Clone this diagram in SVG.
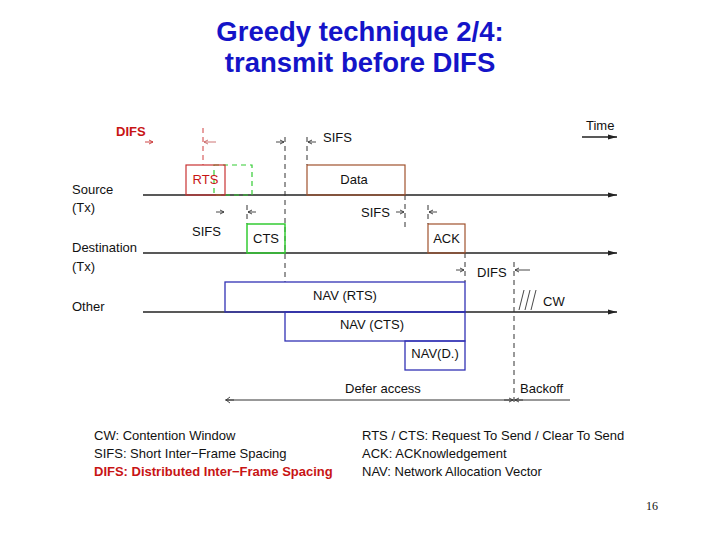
<svg xmlns="http://www.w3.org/2000/svg" width="720" height="540" viewBox="0 0 720 540">
<style>
text{font-family:"Liberation Sans",Arial,sans-serif;font-size:13px;fill:#111}
.title{font-size:27.5px;font-weight:bold;fill:#1414c8;text-anchor:middle}
.c{text-anchor:middle}
.axis{stroke:#222;stroke-width:1.3;fill:none}
.dash{stroke:#333;stroke-width:1;stroke-dasharray:5,4;fill:none}
.tick{stroke:#333;stroke-width:0.9;fill:none}
.red{fill:#c81414}
.nav{fill:none;stroke:#3232b4;stroke-width:1.3}
.frame{fill:none;stroke:#a0522d;stroke-width:1.2}
</style>
<defs>
<marker id="ah" markerWidth="10" markerHeight="8" refX="9" refY="4" orient="auto" markerUnits="userSpaceOnUse">
<path d="M0,1.5 L9,4 L0,6.5 Z" fill="#222"/>
</marker>
</defs>
<rect width="720" height="540" fill="#fff"/>
<text class="title" x="360" y="41">Greedy technique 2/4:</text>
<text class="title" x="360" y="72">transmit before DIFS</text>

<g id="labels">
<text x="72" y="194">Source</text>
<text x="72" y="212">(Tx)</text>
<text x="72" y="252">Destination</text>
<text x="72" y="271">(Tx)</text>
<text x="72" y="311">Other</text>
<text x="586" y="130">Time</text>
<text x="116" y="136" class="red" style="font-weight:bold">DIFS</text>
</g>

<g id="connectors">
<line class="axis" x1="143" y1="195" x2="617" y2="195" marker-end="url(#ah)"/>
<line class="axis" x1="143" y1="253" x2="617" y2="253" marker-end="url(#ah)"/>
<line class="axis" x1="143" y1="312" x2="617" y2="312" marker-end="url(#ah)"/>
<line class="axis" x1="582" y1="137" x2="617" y2="137" marker-end="url(#ah)"/>
<line x1="225" y1="400" x2="570" y2="400" stroke="#333" stroke-width="1"/>
<!-- dashed verticals -->
<line class="dash" x1="203" y1="128" x2="203" y2="165" style="stroke:#d04040"/>
<line class="dash" x1="285" y1="137" x2="285" y2="282"/>
<line class="dash" x1="307" y1="137" x2="307" y2="165"/>
<line class="dash" x1="247" y1="205" x2="247" y2="224"/>
<line class="dash" x1="405" y1="195" x2="405" y2="230"/>
<line class="dash" x1="428" y1="205" x2="428" y2="224"/>
<line class="dash" x1="465" y1="253" x2="465" y2="282"/>
<line class="dash" x1="514" y1="262" x2="514" y2="406"/>
<!-- small interval arrows -->
<path class="tick" style="stroke:#c83232" d="M145,142 L153,142 M149,140 L153,142 L149,144"/>
<path class="tick" style="stroke:#c86464" d="M204,142 L216,142 M208,140 L204,142 L208,144"/>
<path class="tick" d="M276,142 L284,142 M280,140 L284,142 L280,144"/>
<path class="tick" d="M308,142 L316,142 M312,140 L308,142 L312,144"/>
<path class="tick" d="M216,212 L224,212 M220,210 L224,212 L220,214"/>
<path class="tick" d="M248,212 L256,212 M252,210 L248,212 L252,214"/>
<path class="tick" d="M396,212 L404,212 M400,210 L404,212 L400,214"/>
<path class="tick" d="M429,212 L437,212 M433,210 L429,212 L433,214"/>
<path class="tick" d="M456,270 L464,270 M460,268 L464,270 L460,272"/>
<path class="tick" d="M515,270 L530,270 M519,268 L515,270 L519,272"/>
<path class="tick" d="M226,400 L234,400 M230,397 L226,400 L230,403"/>
<path class="tick" d="M504,400 L513,400 M509,398 L513,400 L509,402"/>
<path class="tick" d="M515,400 L523,400 M519,398 L515,400 L519,402"/>
<!-- CW hatch -->
<path class="tick" d="M519,310 L524,290 M525,310 L530,290 M531,310 L536,290"/>
</g>

<g id="rts">
<rect x="214" y="165" width="38" height="30" fill="none" stroke="#33cc33" stroke-width="1.2" stroke-dasharray="5,4"/>
<rect x="186" y="165" width="39" height="30" fill="none" stroke="#c83232" stroke-width="1.2"/>
<text x="205.5" y="184" class="c red">RTS</text>
</g>
<g id="cts">
<rect x="247" y="224" width="38" height="29" fill="none" stroke="#33cc33" stroke-width="1.5"/>
<text x="266" y="243" class="c">CTS</text>
</g>
<g id="data">
<rect x="307" y="165" width="98" height="30" class="frame"/>
<text x="354" y="184" class="c">Data</text>
</g>
<g id="ack">
<rect x="428" y="224" width="37" height="29" class="frame"/>
<text x="446.5" y="243" class="c">ACK</text>
</g>
<g id="nav-rts">
<rect x="225" y="282" width="240" height="30" class="nav"/>
<text x="345" y="300" class="c">NAV (RTS)</text>
</g>
<g id="nav-cts">
<rect x="285" y="312" width="180" height="29" class="nav"/>
<text x="372" y="329" class="c">NAV (CTS)</text>
</g>
<g id="nav-d">
<rect x="405" y="341" width="60" height="29" class="nav"/>
<text x="435" y="358" class="c">NAV(D.)</text>
</g>
<g id="annotations">
<text x="323" y="142">SIFS</text>
<text x="192" y="236">SIFS</text>
<text x="361" y="217">SIFS</text>
<text x="477" y="277">DIFS</text>
<text x="543" y="306">CW</text>
<text x="345" y="393">Defer access</text>
<text x="520" y="393">Backoff</text>
</g>
<g id="legend">
<text x="94" y="440">CW: Contention Window</text>
<text x="94" y="458">SIFS: Short Inter−Frame Spacing</text>
<text x="94" y="476" class="red" style="font-weight:bold">DIFS: Distributed Inter−Frame Spacing</text>
<text x="362" y="440">RTS / CTS: Request To Send / Clear To Send</text>
<text x="362" y="458">ACK: ACKnowledgement</text>
<text x="362" y="476">NAV: Network Allocation Vector</text>
</g>
<text x="652" y="510" class="c" style="font-family:'Liberation Serif','Times New Roman',serif;font-size:12px">16</text>
</svg>
